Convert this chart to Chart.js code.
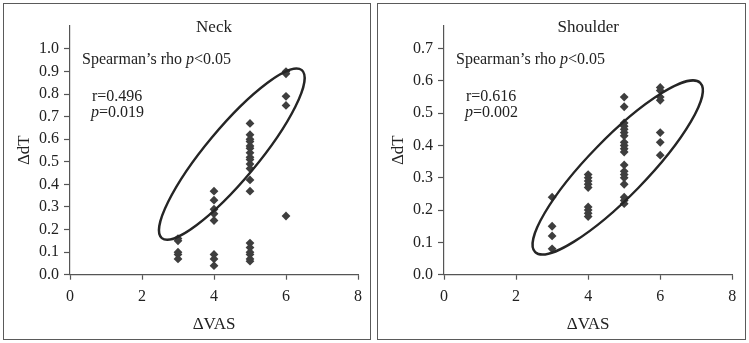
<!DOCTYPE html>
<html>
<head>
<meta charset="utf-8">
<script src="https://cdn.jsdelivr.net/npm/chart.js@4.4.0/dist/chart.umd.min.js"></script>
<style>
  body { margin: 0; background: #fff; width: 749px; height: 343px; position: relative; overflow: hidden; }
  .frame { position: absolute; top: 3px; height: 337px; border: 1px solid #5a5a5a; box-sizing: border-box; }
  canvas { position: absolute; top: 0; }
</style>
</head>
<body>
<div class="frame" style="left:3px;width:368px"></div>
<div class="frame" style="left:377px;width:369px"></div>
<canvas id="neckChart" width="374" height="343" style="left:0"></canvas>
<canvas id="shoulderChart" width="375" height="343" style="left:374px"></canvas>
<script>
// ΔVAS groups and the ΔdT readings in each
var vasLevels = [3, 4, 5, 6];
var neckAt3 = [0.16, 0.15, 0.10, 0.09, 0.07];
var neckAt4 = [0.37, 0.33, 0.29, 0.27, 0.24, 0.09, 0.07, 0.04];
var neckAt5 = [0.67, 0.62, 0.60, 0.59, 0.57, 0.56, 0.54, 0.52, 0.51, 0.49, 0.47, 0.42, 0.37,
               0.14, 0.12, 0.10, 0.09, 0.07, 0.06];
var neckAt6 = [0.90, 0.89, 0.79, 0.75, 0.26];

var shoulderAt3 = [0.24, 0.15, 0.12, 0.08];
var shoulderAt4 = [0.31, 0.30, 0.29, 0.28, 0.27, 0.21, 0.20, 0.19, 0.18];
var shoulderAt5 = [0.55, 0.52, 0.47, 0.46, 0.45, 0.44, 0.43, 0.41, 0.40, 0.39, 0.38,
                   0.34, 0.32, 0.31, 0.30, 0.28, 0.24, 0.23, 0.22];
var shoulderAt6 = [0.58, 0.57, 0.55, 0.54, 0.44, 0.41, 0.37];

var xTicks = [0, 2, 4, 6, 8];
var neckTicks = [0, 0.1, 0.2, 0.3, 0.4, 0.5, 0.6, 0.7, 0.8, 0.9, 1.0];
var shoulderTicks = [0, 0.1, 0.2, 0.3, 0.4, 0.5, 0.6, 0.7];

// confidence ellipses: major axis ends in data units
var neckEllipse = { from: [2.55, 0.162], to: [6.44, 0.906], half: 26 };
var shoulderEllipse = { from: [2.53, 0.070], to: [7.11, 0.594], half: 29 };

var serif = "'Liberation Serif', 'Times New Roman', serif";
var ink = "#222";

function toPoints(groups) {
  var pts = [];
  groups.forEach(function (g, i) {
    g.forEach(function (v) { pts.push({ x: vasLevels[i], y: v }); });
  });
  return pts;
}

var ellipsePlugin = {
  id: "ellipse",
  afterDatasetsDraw: function (chart, args, opts) {
    var xs = chart.scales.x, ys = chart.scales.y, ctx = chart.ctx;
    var x1 = xs.getPixelForValue(opts.from[0]), y1 = ys.getPixelForValue(opts.from[1]);
    var x2 = xs.getPixelForValue(opts.to[0]), y2 = ys.getPixelForValue(opts.to[1]);
    var a = Math.hypot(x2 - x1, y2 - y1) / 2;
    ctx.save();
    ctx.beginPath();
    ctx.ellipse((x1 + x2) / 2, (y1 + y2) / 2, a, opts.half, Math.atan2(y2 - y1, x2 - x1), 0, Math.PI * 2);
    ctx.lineWidth = 2.4;
    ctx.strokeStyle = "#252525";
    ctx.stroke();
    ctx.restore();
  }
};

function drawRuns(ctx, x, y, runs) {
  runs.forEach(function (r) {
    ctx.font = (r[1] ? "italic " : "") + "16px " + serif;
    ctx.fillText(r[0], x, y);
    x += ctx.measureText(r[0]).width;
  });
}

var notesPlugin = {
  id: "notes",
  afterDraw: function (chart, args, opts) {
    var ctx = chart.ctx, area = chart.chartArea;
    ctx.save();
    ctx.fillStyle = ink;
    ctx.textBaseline = "alphabetic";
    ctx.textAlign = "center";
    ctx.font = "17px " + serif;
    ctx.fillText(opts.title, (area.left + area.right) / 2, area.top + 6);
    ctx.textAlign = "left";
    drawRuns(ctx, area.left + 12, area.top + 38.5, [["Spearman\u2019s rho ", false], ["p", true], ["<0.05", false]]);
    drawRuns(ctx, area.left + 22, area.top + 75, [["r=" + opts.r, false]]);
    drawRuns(ctx, area.left + 21, area.top + 91.5, [["p", true], ["=" + opts.p, false]]);
    ctx.restore();
  }
};

function makeChart(id, groups, yTicks, yMax, title, r, p, ellipse, padRight) {
  var tickFont = { family: serif, size: 16 };
  return new Chart(document.getElementById(id), {
    type: "scatter",
    data: {
      datasets: [{
        data: toPoints(groups),
        pointStyle: "rectRot",
        pointRadius: 4.4,
        pointHoverRadius: 4.4,
        backgroundColor: "#3e3e3e",
        borderWidth: 0
      }]
    },
    options: {
      responsive: false,
      animation: false,
      devicePixelRatio: 1,
      layout: { padding: { left: 0, top: 25.7, right: padRight, bottom: 0 } },
      plugins: {
        legend: { display: false },
        tooltip: { enabled: false },
        ellipse: ellipse,
        notes: { title: title, r: r, p: p }
      },
      scales: {
        x: {
          type: "linear",
          min: 0,
          max: 8,
          afterBuildTicks: function (s) { s.ticks = xTicks.map(function (v) { return { value: v }; }); },
          afterFit: function (s) { s.height = 68.3; },
          grid: { drawOnChartArea: false, drawTicks: true, tickLength: 5, tickColor: "#555", tickWidth: 1.2 },
          border: { color: "#555", width: 1.2 },
          ticks: { padding: 7, color: ink, font: tickFont, maxRotation: 0, callback: function (v) { return String(v); } },
          title: { display: true, text: "\u0394VAS", color: ink, font: { family: serif, size: 17 }, padding: { top: 0, bottom: 8 } }
        },
        y: {
          type: "linear",
          min: 0,
          max: yMax,
          afterBuildTicks: function (s) { s.ticks = yTicks.map(function (v) { return { value: v }; }); },
          afterFit: function (s) { s.width = 70; },
          grid: { drawOnChartArea: false, drawTicks: true, tickLength: 6, tickColor: "#555", tickWidth: 1.2 },
          border: { color: "#555", width: 1.2 },
          ticks: { padding: 5, color: ink, font: tickFont, callback: function (v) { return v.toFixed(1); } },
          title: { display: true, text: "\u0394dT", color: ink, font: { family: serif, size: 17 }, padding: { top: 14, bottom: 0 } }
        }
      }
    },
    plugins: [ellipsePlugin, notesPlugin]
  });
}

makeChart("neckChart", [neckAt3, neckAt4, neckAt5, neckAt6], neckTicks, 1.103,
  "Neck", "0.496", "0.019", neckEllipse, 16);
makeChart("shoulderChart", [shoulderAt3, shoulderAt4, shoulderAt5, shoulderAt6], shoulderTicks, 0.771,
  "Shoulder", "0.616", "0.002", shoulderEllipse, 16.7);
</script>
</body>
</html>
